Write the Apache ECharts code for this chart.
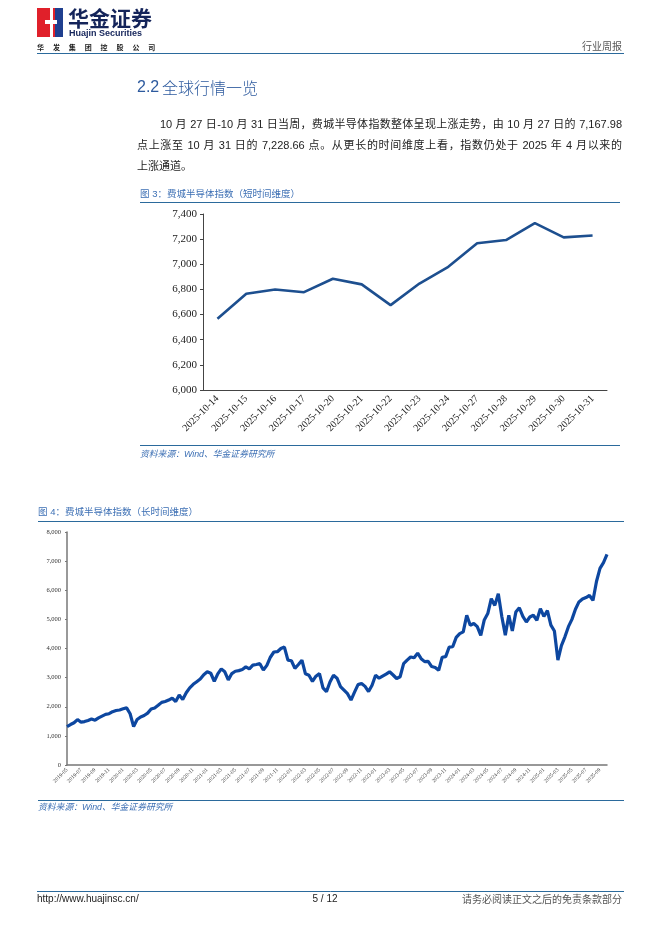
<!DOCTYPE html>
<html>
<head>
<meta charset="utf-8">
<script src="https://cdn.jsdelivr.net/npm/echarts@6/dist/echarts.min.js"></script>
<style>
  html, body { margin: 0; padding: 0; background: #fff; }
  #wrap { position: relative; width: 662px; height: 936px; }
  #page { width: 662px; height: 936px; }
  #para {
    position: absolute; left: 137px; top: 114px; width: 485px;
    font: 11px "Liberation Sans", "Noto Sans CJK SC", sans-serif;
    line-height: 21px; color: #222;
  }
  #para div { white-space: nowrap; }
  #para .j { text-align: justify; text-align-last: justify; }
  #para .first { padding-left: 23px; }
</style>
</head>
<body>
<div id="wrap">
  <div id="page"></div>
  <div id="para"></div>
</div>
<script>
// 图3 短时间维度
var shortDates = ['2025-10-14', '2025-10-15', '2025-10-16', '2025-10-17', '2025-10-20', '2025-10-21', '2025-10-22',
    '2025-10-23', '2025-10-24', '2025-10-27', '2025-10-28', '2025-10-29', '2025-10-30', '2025-10-31'];
var shortValues = [6566, 6765, 6800, 6778, 6885, 6840, 6675, 6847, 6980, 7167.98, 7193, 7328, 7214, 7228.66];

// 图4 长时间维度 (half-month readings, first point = 2019-05)
var longValues = [
    1320, 1390, 1450, 1560, 1470, 1490, 1530, 1580, 1540, 1620,
    1680, 1740, 1760, 1830, 1870, 1890, 1930, 1960, 1760, 1320,
    1560, 1650, 1700, 1780, 1920, 1960, 2050, 2150, 2180, 2230,
    2300, 2180, 2400, 2250, 2480, 2650, 2770, 2860, 2950, 3100,
    3200, 3150, 2870, 3130, 3300, 3200, 2920, 3140, 3220, 3240,
    3280, 3370, 3300, 3430, 3450, 3480, 3260, 3420, 3700, 3880,
    3890, 4000, 4050, 3600, 3580, 3320, 3450, 3600, 3130, 3080,
    2870, 3050, 3140, 2650, 2520, 2850, 3080, 2980, 2690, 2570,
    2450, 2230, 2500, 2760, 2800, 2700, 2520, 2740, 3080, 2980,
    3050, 3120, 3200, 3090, 2970, 3030, 3480, 3600, 3710, 3680,
    3840, 3650, 3550, 3560, 3380, 3350, 3250, 3700, 3720, 4050,
    4060, 4380, 4510, 4570, 5140, 4800, 4860, 4750, 4450, 4980,
    5200, 5710, 5480, 5880, 5100, 4460, 5140, 4600, 5250, 5400,
    5100, 4910, 5080, 5140, 4970, 5370, 5100, 5300, 4800, 4600,
    3600, 4100, 4400, 4750, 5000, 5350, 5600, 5700, 5750, 5820,
    5650, 6300, 6750, 6950, 7230
];

// category per half month: yyyy-mm-01, yyyy-mm-16
var longDates = [];
var y = 2019, m = 5;
while (longDates.length < longValues.length) {
    var mm = (m < 10 ? '0' : '') + m;
    longDates.push(y + '-' + mm + '-01');
    if (longDates.length < longValues.length) longDates.push(y + '-' + mm + '-16');
    m++;
    if (m > 12) { m = 1; y++; }
}

var paraLines = [
    '10 月 27 日-10 月 31 日当周，费城半导体指数整体呈现上涨走势，由 10 月 27 日的 7,167.98',
    '点上涨至 10 月 31 日的 7,228.66 点。从更长的时间维度上看，指数仍处于 2025 年 4 月以来的',
    '上涨通道。'
];

// paragraph as justified html text
var para = document.getElementById('para');
paraLines.forEach(function (s, i) {
    var d = document.createElement('div');
    d.textContent = s;
    if (i < paraLines.length - 1) d.className = 'j';
    if (i === 0) d.className += ' first';
    para.appendChild(d);
});

var cjk = '"Liberation Sans", "Noto Sans CJK SC", sans-serif';
var serif = '"Liberation Serif", "DejaVu Serif", serif';
var blue = '#2b6a9c';
var capBlue = '#3c6fb4';

function hline(x1, x2, yy, color, w) {
    return { type: 'line', shape: { x1: x1, y1: yy, x2: x2, y2: yy }, style: { stroke: color, lineWidth: w || 1 }, silent: true };
}
function txt(x, yy, s, font, fill, align) {
    return { type: 'text', x: x, y: yy, style: { text: s, font: font, fill: fill, textAlign: align || 'left', textVerticalAlign: 'middle' }, silent: true };
}

var graphics = [
    // logo
    { type: 'rect', shape: { x: 37, y: 8, width: 18, height: 29 }, style: { fill: '#e0202a' } },
    { type: 'rect', shape: { x: 55, y: 8, width: 8, height: 29 }, style: { fill: '#1f3f8f' } },
    { type: 'polygon', shape: { points: [[50, 8], [53, 8], [53, 20], [57, 20], [57, 24], [53, 24], [53, 37], [50, 37], [50, 24], [45, 24], [45, 20], [50, 20]] }, style: { fill: '#ffffff' } },
    txt(68, 18, '华金证券', 'bold 21px "Noto Sans CJK SC", sans-serif', '#14245a'),
    txt(69, 33.5, 'Huajin Securities', 'bold 9px "Liberation Sans", sans-serif', '#14245a'),
    txt(622, 46, '行业周报', '10px "Noto Sans CJK SC", sans-serif', '#555', 'right'),
    hline(37, 624, 53.5, blue, 1.2),

    // heading
    txt(137, 88, '2.2', '16px "Liberation Sans", sans-serif', '#2d5a9e'),
    txt(162, 88, '全球行情一览', '300 16px "Noto Sans CJK SC", sans-serif', '#2d5a9e'),

    // figure 3 frame
    txt(140, 194, '图 3：费城半导体指数（短时间维度）', '9.5px ' + cjk, capBlue),
    hline(140, 620, 202.5, blue, 1),
    hline(140, 620, 445.5, blue, 1),
    txt(140, 455, '资料来源：Wind、华金证券研究所', 'italic 8.8px ' + cjk, capBlue),

    // figure 4 frame
    txt(38, 512, '图 4：费城半导体指数（长时间维度）', '9.5px ' + cjk, capBlue),
    hline(38, 624, 521.5, blue, 1),
    hline(38, 624, 800.5, blue, 1),
    txt(38, 808, '资料来源：Wind、华金证券研究所', 'italic 8.8px ' + cjk, capBlue),

    // footer
    hline(37, 624, 891.5, blue, 1),
    txt(37, 899, 'http://www.huajinsc.cn/', '10px "Liberation Sans", sans-serif', '#222'),
    txt(325, 899, '5 / 12', '10px "Liberation Sans", sans-serif', '#222', 'center'),
    txt(622, 899, '请务必阅读正文之后的免责条款部分', '10px "Noto Sans CJK SC", sans-serif', '#555', 'right')
];

// 华发集团控股公司, spread under the logo
'华发集团控股公司'.split('').forEach(function (c, i) {
    graphics.push(txt(37 + i * 15.9, 47, c, 'bold 7px "Noto Sans CJK SC", sans-serif', '#222'));
});

var chart = echarts.init(document.getElementById('page'), null, { renderer: 'canvas' });

var option = {
    animation: false,
    backgroundColor: '#fff',
    graphic: graphics,
    grid: [
        { left: 203, right: 55, top: 214, bottom: 546, containLabel: false },
        { left: 67, right: 55, top: 532, bottom: 171, containLabel: false }
    ],
    xAxis: [
        {
            gridIndex: 0,
            type: 'category',
            data: shortDates,
            boundaryGap: true,
            axisLine: { lineStyle: { color: '#444', width: 1 } },
            axisTick: { show: false },
            axisLabel: {
                rotate: 45,
                interval: 0,
                margin: 7,
                color: '#222',
                fontFamily: serif,
                fontSize: 10
            },
            splitLine: { show: false }
        },
        {
            gridIndex: 1,
            type: 'category',
            data: longDates,
            boundaryGap: false,
            axisLine: { lineStyle: { color: '#777', width: 1.5 } },
            axisTick: { show: false },
            axisLabel: {
                rotate: 45,
                margin: 4,
                color: '#333',
                fontFamily: serif,
                fontSize: 5.5,
                interval: function (idx) { return idx % 4 === 0; },
                formatter: function (v) { return v.substring(0, 7); }
            },
            splitLine: { show: false }
        }
    ],
    yAxis: [
        {
            gridIndex: 0,
            type: 'value',
            min: 6000,
            max: 7400,
            interval: 200,
            axisLine: { show: true, lineStyle: { color: '#444', width: 1 } },
            axisTick: { show: true, length: 3, lineStyle: { color: '#444' } },
            axisLabel: {
                color: '#222',
                fontFamily: serif,
                fontSize: 11,
                margin: 6,
                formatter: function (v) { return v.toLocaleString('en-US'); }
            },
            splitLine: { show: false }
        },
        {
            gridIndex: 1,
            type: 'value',
            min: 0,
            max: 8000,
            interval: 1000,
            axisLine: { show: true, lineStyle: { color: '#777', width: 1.5 } },
            axisTick: { show: true, length: 2, lineStyle: { color: '#777' } },
            axisLabel: {
                color: '#333',
                fontFamily: serif,
                fontSize: 6.5,
                margin: 6,
                formatter: function (v) { return v.toLocaleString('en-US'); }
            },
            splitLine: { show: false }
        }
    ],
    series: [
        {
            name: '费城半导体指数（短）',
            type: 'line',
            xAxisIndex: 0,
            yAxisIndex: 0,
            data: shortValues,
            showSymbol: false,
            lineStyle: { color: '#1d4f8f', width: 2.6 },
            itemStyle: { color: '#1d4f8f' }
        },
        {
            name: '费城半导体指数（长）',
            type: 'line',
            xAxisIndex: 1,
            yAxisIndex: 1,
            data: longValues,
            showSymbol: false,
            lineStyle: { color: '#0d47a0', width: 3.2 },
            itemStyle: { color: '#0d47a0' }
        }
    ]
};

chart.setOption(option);
</script>
</body>
</html>
